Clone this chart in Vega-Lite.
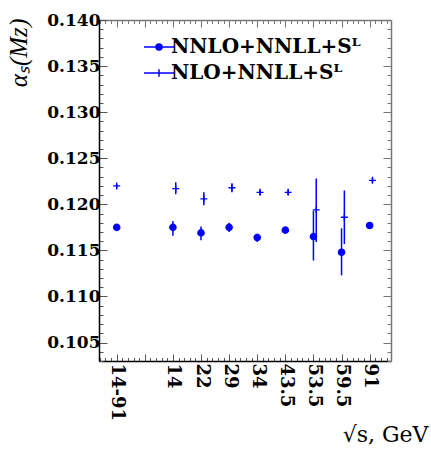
{
  "$schema": "https://vega.github.io/schema/vega-lite/v6.json",
  "width": 292,
  "height": 341,
  "autosize": "none",
  "padding": {"left": 99, "top": 20, "right": 40, "bottom": 88},
  "background": "white",
  "config": {
    "view": {"stroke": null},
    "axis": {"grid": false, "labelOverlap": false, "labelBound": false, "labelFlush": false}
  },
  "data": {
    "values": [
      {"label": "14-91", "u": 0, "model": "NNLO+NNLL+Sᴸ", "a": 0.1175, "lo": 0.1173, "hi": 0.1177},
      {"label": "14", "u": 2, "model": "NNLO+NNLL+Sᴸ", "a": 0.1175, "lo": 0.1166, "hi": 0.1182},
      {"label": "22", "u": 3, "model": "NNLO+NNLL+Sᴸ", "a": 0.1169, "lo": 0.1161, "hi": 0.1176},
      {"label": "29", "u": 4, "model": "NNLO+NNLL+Sᴸ", "a": 0.1175, "lo": 0.1170, "hi": 0.1180},
      {"label": "34", "u": 5, "model": "NNLO+NNLL+Sᴸ", "a": 0.1164, "lo": 0.1159, "hi": 0.1168},
      {"label": "43.5", "u": 6, "model": "NNLO+NNLL+Sᴸ", "a": 0.1172, "lo": 0.1170, "hi": 0.1174},
      {"label": "53.5", "u": 7, "model": "NNLO+NNLL+Sᴸ", "a": 0.1165, "lo": 0.1139, "hi": 0.1193},
      {"label": "59.5", "u": 8, "model": "NNLO+NNLL+Sᴸ", "a": 0.1148, "lo": 0.1123, "hi": 0.1174},
      {"label": "91", "u": 9, "model": "NNLO+NNLL+Sᴸ", "a": 0.1177, "lo": 0.1175, "hi": 0.1179},
      {"label": "14-91", "u": 0, "model": "NLO+NNLL+Sᴸ", "a": 0.1220, "lo": 0.1217, "hi": 0.1222},
      {"label": "14", "u": 2.1, "model": "NLO+NNLL+Sᴸ", "a": 0.1217, "lo": 0.1211, "hi": 0.1224},
      {"label": "22", "u": 3.1, "model": "NLO+NNLL+Sᴸ", "a": 0.1206, "lo": 0.1199, "hi": 0.1213},
      {"label": "29", "u": 4.1, "model": "NLO+NNLL+Sᴸ", "a": 0.1218, "lo": 0.1213, "hi": 0.1223},
      {"label": "34", "u": 5.1, "model": "NLO+NNLL+Sᴸ", "a": 0.1213, "lo": 0.1210, "hi": 0.1216},
      {"label": "43.5", "u": 6.1, "model": "NLO+NNLL+Sᴸ", "a": 0.1213, "lo": 0.1210, "hi": 0.1216},
      {"label": "53.5", "u": 7.1, "model": "NLO+NNLL+Sᴸ", "a": 0.1194, "lo": 0.1159, "hi": 0.1228},
      {"label": "59.5", "u": 8.1, "model": "NLO+NNLL+Sᴸ", "a": 0.1186, "lo": 0.1157, "hi": 0.1215},
      {"label": "91", "u": 9.1, "model": "NLO+NNLL+Sᴸ", "a": 0.1226, "lo": 0.1223, "hi": 0.1229}
    ]
  },
  "layer": [
    {
      "mark": {"type": "rule", "color": "#0000ff", "strokeWidth": 1.5},
      "encoding": {
        "x": {
          "field": "u", "type": "quantitative",
          "scale": {"domain": [-0.63, 9.76], "nice": false, "zero": false},
          "axis": {
            "orient": "bottom",
            "values": [-0.6,-0.4,-0.2,0,0.2,0.4,0.6,0.8,1,1.2,1.4,1.6,1.8,2,2.2,2.4,2.6,2.8,3,3.2,3.4,3.6,3.8,4,4.2,4.4,4.6,4.8,5,5.2,5.4,5.6,5.8,6,6.2,6.4,6.6,6.8,7,7.2,7.4,7.6,7.8,8,8.2,8.4,8.6,8.8,9,9.2,9.4,9.6],
            "labelExpr": "datum.value===0?'14-91':datum.value===2?'14':datum.value===3?'22':datum.value===4?'29':datum.value===5?'34':datum.value===6?'43.5':datum.value===7?'53.5':datum.value===8?'59.5':datum.value===9?'91':''",
            "labelAngle": 90, "labelAlign": "left", "labelBaseline": "middle",
            "labelPadding": 9,
            "labelFont": "DejaVu Serif", "labelFontWeight": "bold", "labelFontSize": 18, "labelColor": "black",
            "domainColor": "black", "domainWidth": 1.5,
            "tickColor": "#555", "tickWidth": 1,
            "tickSize": {"condition": {"test": "datum.value % 1 === 0", "value": -7}, "value": -3.5},
            "title": "√s, GeV",
            "titleFont": "DejaVu Serif", "titleFontSize": 22, "titleFontWeight": "normal", "titleColor": "black",
            "titleAlign": "right", "titleBaseline": "alphabetic", "titleX": 329, "titleY": 80
          }
        },
        "y": {
          "field": "lo", "type": "quantitative",
          "scale": {"domain": [0.103, 0.140], "nice": false, "zero": false},
          "axis": {
            "orient": "left",
            "values": [0.103,0.104,0.105,0.106,0.107,0.108,0.109,0.110,0.111,0.112,0.113,0.114,0.115,0.116,0.117,0.118,0.119,0.120,0.121,0.122,0.123,0.124,0.125,0.126,0.127,0.128,0.129,0.130,0.131,0.132,0.133,0.134,0.135,0.136,0.137,0.138,0.139,0.140],
            "labelExpr": "abs(datum.value*200 - round(datum.value*200)) < 1e-6 ? format(datum.value, '.3f') : ''",
            "labelPadding": 7,
            "labelFont": "DejaVu Serif", "labelFontWeight": "bold", "labelFontSize": 17, "labelColor": "black",
            "domainColor": "black", "domainWidth": 1.5,
            "tickColor": "#555", "tickWidth": 1,
            "tickSize": {"condition": {"test": "abs(datum.value*200 - round(datum.value*200)) < 1e-6", "value": -8}, "value": -4},
            "title": "αₛ(Mᴢ)",
            "titleFont": "Liberation Serif", "titleFontSize": 25, "titleFontStyle": "italic", "titleFontWeight": "normal", "titleColor": "black",
            "titleAngle": -90, "titleAlign": "right", "titleBaseline": "alphabetic", "titleX": -73, "titleY": -2
          }
        },
        "y2": {"field": "hi"}
      }
    },
    {
      "mark": {"type": "point", "filled": true, "fill": "#0000ff", "stroke": "#0000ff", "strokeWidth": 1.3, "size": 49, "opacity": 1},
      "encoding": {
        "x": {
          "field": "u", "type": "quantitative",
          "axis": {
            "orient": "top",
            "values": [-0.6,-0.4,-0.2,0,0.2,0.4,0.6,0.8,1,1.2,1.4,1.6,1.8,2,2.2,2.4,2.6,2.8,3,3.2,3.4,3.6,3.8,4,4.2,4.4,4.6,4.8,5,5.2,5.4,5.6,5.8,6,6.2,6.4,6.6,6.8,7,7.2,7.4,7.6,7.8,8,8.2,8.4,8.6,8.8,9,9.2,9.4,9.6],
            "labels": false, "title": null,
            "domainColor": "#777", "domainWidth": 1.5,
            "tickColor": "#777", "tickWidth": 1,
            "tickSize": {"condition": {"test": "datum.value % 1 === 0", "value": -7}, "value": -3.5}
          }
        },
        "y": {
          "field": "a", "type": "quantitative",
          "axis": {
            "orient": "right",
            "values": [0.103,0.104,0.105,0.106,0.107,0.108,0.109,0.110,0.111,0.112,0.113,0.114,0.115,0.116,0.117,0.118,0.119,0.120,0.121,0.122,0.123,0.124,0.125,0.126,0.127,0.128,0.129,0.130,0.131,0.132,0.133,0.134,0.135,0.136,0.137,0.138,0.139,0.140],
            "labels": false, "title": null,
            "domainColor": "#777", "domainWidth": 1.5,
            "tickColor": "#777", "tickWidth": 1,
            "tickSize": {"condition": {"test": "abs(datum.value*200 - round(datum.value*200)) < 1e-6", "value": -8}, "value": -4}
          }
        },
        "shape": {
          "field": "model", "type": "nominal",
          "scale": {"domain": ["NNLO+NNLL+Sᴸ", "NLO+NNLL+Sᴸ"], "range": ["M-0.9,0A0.9,0.9,0,1,1,0.9,0A0.9,0.9,0,1,1,-0.9,0Z", "M-1,0H1M0,-1V1"]},
          "legend": null
        }
      }
    },
    {
      "transform": [{"filter": "false"}],
      "mark": {"type": "point", "filled": false, "color": "#0000ff", "strokeWidth": 1.5, "opacity": 1},
      "encoding": {
        "x": {"field": "u", "type": "quantitative", "axis": null},
        "y": {"field": "a", "type": "quantitative", "axis": null},
        "shape": {
          "field": "model", "type": "nominal",
          "scale": {"domain": ["NNLO+NNLL+Sᴸ", "NLO+NNLL+Sᴸ"], "range": ["M-1,0H1M-0.2,0A0.2,0.2,0,1,1,0.2,0A0.2,0.2,0,1,1,-0.2,0ZM-0.13,0A0.13,0.13,0,1,1,0.13,0A0.13,0.13,0,1,1,-0.13,0ZM-0.06,0A0.06,0.06,0,1,1,0.06,0A0.06,0.06,0,1,1,-0.06,0Z", "M-1,0H1M0,-0.25V0.25"]},
          "legend": {
            "orient": "none", "legendX": 44, "legendY": 11, "title": null, "padding": 0,
            "symbolSize": 900, "symbolStrokeWidth": 1.5, "symbolStrokeColor": "#0000ff", "symbolOpacity": 1,
            "labelFont": "DejaVu Serif", "labelFontWeight": "bold", "labelFontSize": 20, "labelColor": "black", "labelOffset": -4,
            "labelExpr": "indexof(datum.label, 'NLO') === 0 ? '\u2002' + datum.label : datum.label",
            "rowPadding": -5, "labelLimit": 400
          }
        }
      }
    }
  ],
  "resolve": {"axis": {"x": "independent", "y": "independent"}, "scale": {"shape": "independent"}}
}
